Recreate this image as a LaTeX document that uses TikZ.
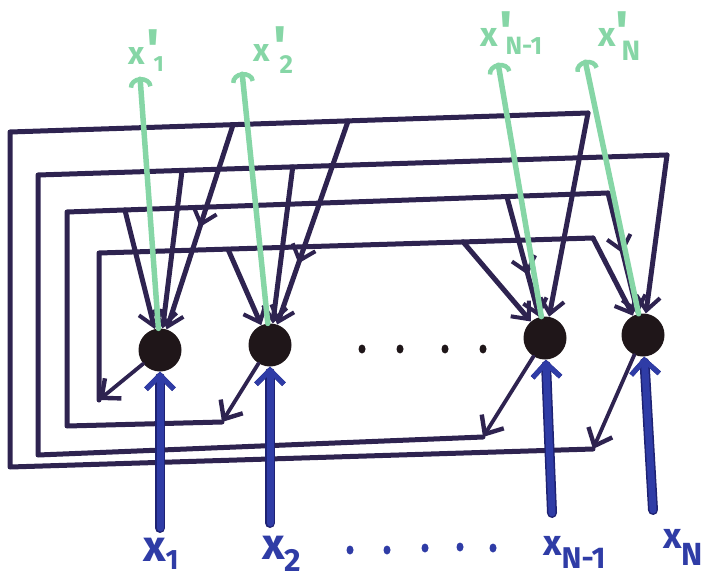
\documentclass[tikz,border=0pt]{standalone}
\usepackage{fontspec}
\setmainfont{Fira Sans}
\usetikzlibrary{arrows.meta,calc,decorations.markings,shapes.geometric}
\definecolor{wire}{HTML}{2E2350}
\definecolor{cellc}{HTML}{1F1619}
\definecolor{outg}{HTML}{86D6A6}
\definecolor{ink}{HTML}{2F3CA6}
\definecolor{inkdark}{HTML}{1E2272}

\begin{document}
\begin{tikzpicture}[x=1pt,y=-1pt,
  wire/.style={color=wire,line width=5pt,line join=round,line cap=round},
  feed/.style={wire,-{Straight Barb[length=14pt,width=24pt,line width=4pt]}},
  outarrow/.style={color=wire,line width=3.8pt,line cap=round,-{Straight Barb[length=15pt,width=26pt,line width=4.4pt]}},
  mid/.style={postaction={decorate,decoration={markings,
      mark=at position #1 with {\arrow{Straight Barb[length=14pt,width=24pt,line width=4pt]}}}}},
  cellnode/.style={circle,fill=cellc,minimum size=43pt,inner sep=0pt},
  inwire/.style={color=ink,line width=7pt,line cap=round,
      preaction={draw=inkdark,line width=10pt,line cap=round},
      -{Straight Barb[length=14pt,width=28pt,line width=5pt]}},
  outwire/.style={color=outg,line width=5.5pt,line cap=round,
      -{Arc Barb[length=10pt,width=24pt,line width=4.5pt]}},
  inlab/.style={text=ink,font=\bfseries,inner sep=0pt,anchor=base west},
  outlab/.style={text=outg,font=\bfseries,inner sep=0pt,anchor=base west},
  dot/.style={ellipse,inner sep=0pt,minimum width=7pt,minimum height=9pt}
]
\useasboundingbox (0,0) rectangle (708,580);

% the four units
\node[cellnode] (n1) at (160,350) {};
\node[cellnode] (n2) at (270,345) {};
\node[cellnode] (n3) at (545,338) {};
\node[cellnode] (n4) at (643,335) {};

% feedback loop corners
\coordinate (a0) at (593,449);
\coordinate (a1) at (10,467);
\coordinate (a2) at (10,132);
\coordinate (a3) at (588,113);
\coordinate (b0) at (483,437);
\coordinate (b1) at (38,455);
\coordinate (b2) at (38,175);
\coordinate (b3) at (667,155);
\coordinate (c0) at (222,422);
\coordinate (c1) at (67,426);
\coordinate (c2) at (67,212);
\coordinate (c3) at (608,193);
\coordinate (d0) at (99,400);
\coordinate (d1) at (99,253);
\coordinate (d2) at (593,238);

% branch points on the top runs
\coordinate (ta1) at ($(a2)!0.386!(a3)$);
\coordinate (ta2) at ($(a2)!0.585!(a3)$);
\coordinate (tb1) at ($(b2)!0.229!(b3)$);
\coordinate (tb2) at ($(b2)!0.405!(b3)$);
\coordinate (tc1) at ($(c2)!0.107!(c3)$);
\coordinate (tc3) at ($(c2)!0.813!(c3)$);
\coordinate (td2) at ($(d1)!0.261!(d2)$);
\coordinate (td3) at ($(d1)!0.737!(d2)$);

% loop wiring
\draw[wire] (a0) -- (a1) -- (a2) -- (a3);
\draw[wire] (b0) -- (b1) -- (b2) -- (b3);
\draw[wire] (c0) -- (c1) -- (c2) -- (c3);
\draw[wire] (d0) -- (d1) -- (d2);

% outputs of each unit into its loop
\draw[outarrow] (n1) -- (d0);
\draw[outarrow] (n2) -- (c0);
\draw[outarrow] (n3) -- (b0);
\draw[outarrow] (n4) -- (a0);

% loop A feeds units 1, 2, N-1
\draw[feed,mid=0.5] (ta1) -- (n1);
\draw[feed,mid=0.7] (ta2) -- (n2);
\draw[feed] (a3) -- (n3);
% loop B feeds units 1, 2, N
\draw[feed] (tb1) -- (n1);
\draw[feed] (tb2) -- (n2);
\draw[feed] (b3) -- (n4);
% loop C feeds units 1, N-1, N
\draw[feed] (tc1) -- (n1);
\draw[feed,mid=0.65] (tc3) -- (n3);
\draw[feed,mid=0.5] (c3) -- (n4);
% loop D feeds units 2, N-1, N
\draw[feed] (td2) -- (n2);
\draw[feed] (td3) -- (n3);
\draw[feed] (d2) -- (n4);

% read-out lines
\coordinate (g1) at (140,77);
\coordinate (g2) at (242,72);
\coordinate (g3) at (498,63);
\coordinate (g4) at (585,60);
\draw[outwire] (n1) -- (g1);
\draw[outwire] (n2) -- (g2);
\draw[outwire] (n3) -- (g3);
\draw[outwire] (n4) -- (g4);

% external inputs
\coordinate (i1) at (160,528);
\coordinate (i2) at (270,523);
\coordinate (i3) at (552,513);
\coordinate (i4) at (653,510);
\draw[inwire] (i1) -- (n1);
\draw[inwire] (i2) -- (n2);
\draw[inwire] (i3) -- (n3);
\draw[inwire] (i4) -- (n4);

% ellipsis between the units
\foreach \x [count=\k] in {362,400,445,483}
  \node[dot,fill=cellc] (m\k) at (\x,349) {};
% ellipsis between the input labels
\foreach \x/\y [count=\k] in {350/550,387/550,425/548,460/547,493/548}
  \node[dot,fill=ink] (e\k) at (\x,\y) {};

% input labels
\node[inlab] (l1) at (143,561) {\fontsize{44}{44}\selectfont x\raisebox{-8pt}{\fontsize{28}{28}\selectfont 1}};
\node[inlab] (l2) at (262,559) {\fontsize{44}{44}\selectfont x\raisebox{-12pt}{\fontsize{32}{32}\selectfont 2}};
\node[inlab] (l3) at (543,555) {\fontsize{36}{36}\selectfont x\raisebox{-13pt}{\fontsize{30}{30}\selectfont N-1}};
\node[inlab] (l4) at (663,548) {\fontsize{36}{36}\selectfont x\raisebox{-17pt}{\fontsize{32}{32}\selectfont N}};

% read-out labels
\node[outlab] (o1) at (128,65) {\fontsize{32}{32}\selectfont x\rlap{\raisebox{-4pt}{\fontsize{56}{56}\selectfont\kern2pt\textquotesingle}}\kern9pt\raisebox{-7pt}{\fontsize{22}{22}\selectfont 1}};
\node[outlab] (o2) at (253,62) {\fontsize{32}{32}\selectfont x\rlap{\raisebox{-4pt}{\fontsize{56}{56}\selectfont\kern4pt\textquotesingle}}\kern10pt\raisebox{-12pt}{\fontsize{26}{26}\selectfont 2}};
\node[outlab] (o3) at (480,47) {\fontsize{34}{34}\selectfont x\rlap{\raisebox{-4pt}{\fontsize{56}{56}\selectfont\kern2pt\textquotesingle}}\kern8pt\raisebox{-8pt}{\fontsize{25}{25}\selectfont N-1}};
\node[outlab] (o4) at (598,47) {\fontsize{34}{34}\selectfont x\rlap{\raisebox{-4pt}{\fontsize{56}{56}\selectfont\kern0pt\textquotesingle}}\kern6pt\raisebox{-14pt}{\fontsize{28}{28}\selectfont N}};
\end{tikzpicture}
\end{document}
